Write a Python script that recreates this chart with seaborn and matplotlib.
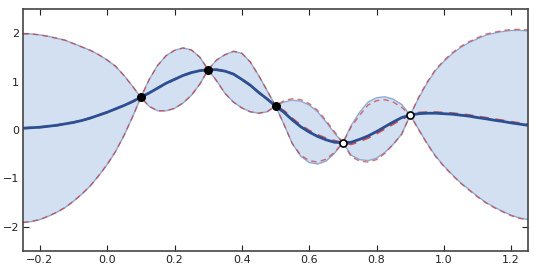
import numpy as np
import pandas as pd
import matplotlib
matplotlib.use("Agg")
import matplotlib.pyplot as plt
import seaborn as sns

# sample positions along x
x = [-0.25, -0.225, -0.2, -0.175, -0.15, -0.125, -0.1, -0.075, -0.05, -0.025,
     0.0, 0.025, 0.05, 0.075, 0.1, 0.125, 0.15, 0.175, 0.2, 0.225,
     0.25, 0.275, 0.3, 0.325, 0.35, 0.375, 0.4, 0.425, 0.45, 0.475,
     0.5, 0.525, 0.55, 0.575, 0.6, 0.625, 0.65, 0.675, 0.7, 0.725,
     0.75, 0.775, 0.8, 0.825, 0.85, 0.875, 0.9, 0.925, 0.95, 0.975,
     1.0, 1.025, 1.05, 1.075, 1.1, 1.125, 1.15, 1.175, 1.2, 1.225, 1.25]

# blue posterior: mean and band edges
mean = [0.04, 0.05, 0.06, 0.08, 0.10, 0.13, 0.16, 0.20, 0.25, 0.31,
        0.37, 0.44, 0.51, 0.59, 0.68, 0.77, 0.87, 0.97, 1.05, 1.13,
        1.19, 1.23, 1.25, 1.25, 1.22, 1.16, 1.05, 0.93, 0.78, 0.645,
        0.50, 0.37, 0.21, 0.07, -0.04, -0.13, -0.20, -0.25, -0.26, -0.25,
        -0.19, -0.12, -0.03, 0.07, 0.17, 0.26, 0.31, 0.34, 0.35, 0.35,
        0.34, 0.33, 0.31, 0.29, 0.26, 0.235, 0.205, 0.18, 0.15, 0.125, 0.10]
upper = [1.99, 1.99, 1.97, 1.94, 1.90, 1.86, 1.79, 1.72, 1.65, 1.56,
         1.45, 1.32, 1.13, 0.91, 0.68, 1.05, 1.34, 1.54, 1.65, 1.70,
         1.66, 1.51, 1.25, 1.45, 1.56, 1.63, 1.59, 1.41, 1.13, 0.82,
         0.50, 0.58, 0.62, 0.60, 0.52, 0.38, 0.17, -0.06, -0.26, 0.10,
         0.37, 0.58, 0.67, 0.69, 0.64, 0.53, 0.31, 0.66, 0.97, 1.23,
         1.42, 1.58, 1.71, 1.81, 1.89, 1.965, 2.005, 2.04, 2.06, 2.065, 2.05]
lower = [-1.91, -1.89, -1.85, -1.78, -1.70, -1.60, -1.47, -1.32, -1.15, -0.94,
         -0.71, -0.44, -0.11, 0.27, 0.68, 0.49, 0.40, 0.40, 0.45, 0.56,
         0.72, 0.95, 1.25, 1.02, 0.76, 0.58, 0.46, 0.38, 0.35, 0.38,
         0.50, 0.12, -0.28, -0.54, -0.67, -0.70, -0.64, -0.48, -0.26, -0.52,
         -0.61, -0.63, -0.58, -0.46, -0.29, -0.08, 0.31, 0.02, -0.27, -0.53,
         -0.74, -0.92, -1.09, -1.23, -1.37, -1.495, -1.595, -1.68, -1.76, -1.815, -1.85]

# red dashed posterior (same as blue up to x = 0.5)
red_mean = mean[:31] + [0.40, 0.24, 0.10, -0.01, -0.10, -0.17, -0.22, -0.26,
                        -0.29, -0.23, -0.16, -0.07, 0.03, 0.13, 0.23, 0.31,
                        0.36, 0.37, 0.37, 0.36, 0.35, 0.33, 0.31, 0.28, 0.255,
                        0.225, 0.20, 0.17, 0.145, 0.12]
red_upper = upper[:31] + [0.61, 0.65, 0.63, 0.55, 0.41, 0.20, -0.03, -0.26,
                          0.07, 0.31, 0.52, 0.61, 0.63, 0.58, 0.47, 0.31,
                          0.68, 0.99, 1.25, 1.44, 1.60, 1.73, 1.83, 1.91, 1.985,
                          2.025, 2.06, 2.08, 2.085, 2.07]
red_lower = lower[:31] + [0.12, -0.28, -0.52, -0.63, -0.66, -0.60, -0.46, -0.26,
                          -0.55, -0.64, -0.66, -0.61, -0.48, -0.29, -0.08, 0.31,
                          0.01, -0.28, -0.54, -0.75, -0.93, -1.10, -1.24, -1.38, -1.505,
                          -1.605, -1.69, -1.77, -1.825, -1.86]

# observations
obs_x_filled = [0.1, 0.3, 0.5]
obs_y_filled = [0.68, 1.25, 0.50]
obs_x_open = [0.7, 0.9]
obs_y_open = [-0.26, 0.31]

df = pd.DataFrame({"x": x, "mean": mean, "upper": upper, "lower": lower,
                   "red_mean": red_mean, "red_upper": red_upper, "red_lower": red_lower})

sns.set_style("ticks")
plt.rcParams.update({
    "xtick.direction": "in", "ytick.direction": "in",
    "xtick.top": True, "ytick.right": True,
    "xtick.major.size": 4, "ytick.major.size": 4,
    "xtick.labelsize": 8, "ytick.labelsize": 8,
    "axes.edgecolor": "#444444", "axes.linewidth": 1.2,
})
plt.rcParams["font.family"] = ["DejaVu Sans"]

fig = plt.figure(figsize=(5.38, 2.73), dpi=100)
ax = fig.add_axes([0.0428, 0.0806, 0.9386, 0.8854])

red = "#c8383a"
dash = [4, 3]

ax.fill_between(df["x"], df["lower"], df["upper"], color="#d3e0f1", lw=0)
sns.lineplot(data=df, x="x", y="upper", ax=ax, color="#8fa9d2", lw=1.0)
sns.lineplot(data=df, x="x", y="lower", ax=ax, color="#8fa9d2", lw=1.0)
sns.lineplot(data=df, x="x", y="red_upper", ax=ax, color=red, lw=1.0, alpha=0.7)
ax.lines[-1].set_dashes(dash)
sns.lineplot(data=df, x="x", y="red_lower", ax=ax, color=red, lw=1.0, alpha=0.7)
ax.lines[-1].set_dashes(dash)
# red mean sits under the blue mean, showing only where they part
sns.lineplot(data=df, x="x", y="red_mean", ax=ax, color=red, lw=1.6, alpha=0.85)
ax.lines[-1].set_dashes(dash)
sns.lineplot(data=df, x="x", y="mean", ax=ax, color="#2b4f91", lw=2.0)

sns.scatterplot(x=obs_x_filled, y=obs_y_filled, ax=ax, color="black", s=30,
                edgecolor="black", linewidth=1.0, zorder=5)
sns.scatterplot(x=obs_x_open, y=obs_y_open, ax=ax, color="white", s=26,
                edgecolor="black", linewidth=1.2, zorder=5)

ax.set_xlim(-0.25, 1.25)
ax.set_ylim(-2.5, 2.5)
ax.set_xticks([-0.2, 0.0, 0.2, 0.4, 0.6, 0.8, 1.0, 1.2])
ax.set_yticks([-2, -1, 0, 1, 2])
ax.set_xlabel("")
ax.set_ylabel("")
ax.tick_params(pad=3, colors="#222222")

fig.savefig("out.png", dpi=100)
